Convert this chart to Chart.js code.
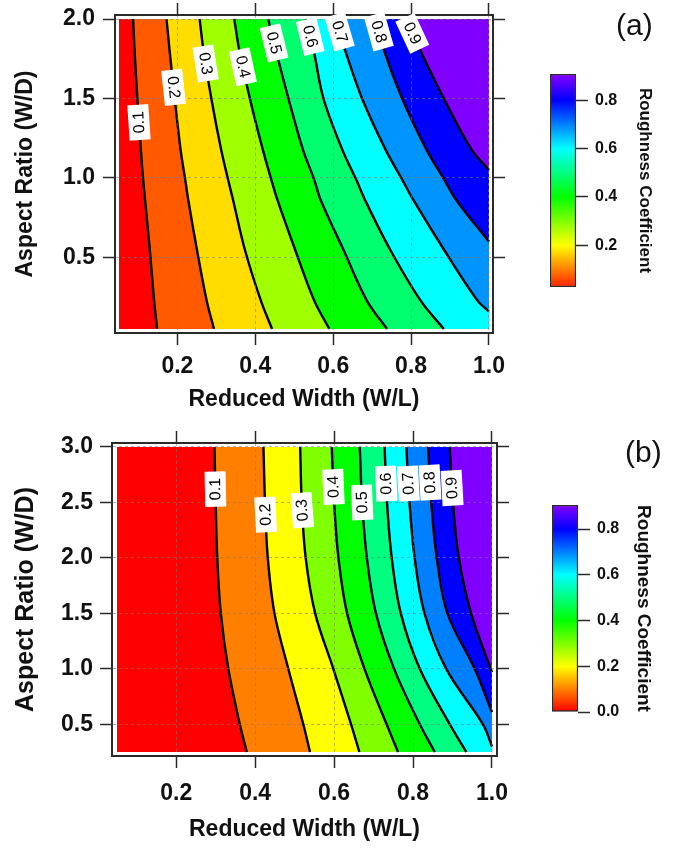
<!DOCTYPE html>
<html lang="en">
<head>
<meta charset="UTF-8">
<title>Roughness Coefficient contours</title>
<script src="https://cdn.jsdelivr.net/npm/chart.js"></script>
<style>
  body { margin: 0; background: #fff; }
  #page { position: relative; width: 675px; height: 848px; overflow: hidden; background: #fff; }
  canvas { position: absolute; }
  .panel-tag { position: absolute; font: 30px "Liberation Sans", Arial, sans-serif; line-height: 30px; color: #111; }
</style>
</head>
<body>
<div id="page">
  <canvas id="contourA" width="520" height="420" style="left:0;top:0"></canvas>
  <canvas id="barA" width="155" height="420" style="left:520px;top:0"></canvas>
  <canvas id="contourB" width="520" height="428" style="left:0;top:420px"></canvas>
  <canvas id="barB" width="155" height="428" style="left:520px;top:420px"></canvas>
  <div class="panel-tag" style="left:616px;top:10px">(a)</div>
  <div class="panel-tag" style="left:625px;top:437px">(b)</div>
</div>

<script>
// ---------- panel (a) ----------
const A_LEVELS = [0.1, 0.2, 0.3, 0.4, 0.5, 0.6, 0.7, 0.8, 0.9];
const A_Y = [2.0, 1.8, 1.5, 1.18, 0.99, 0.86, 0.55, 0.23, 0.05];
// x of each contour at the A_Y heights (top to bottom)
const A_X = [
  [0.086, 0.090, 0.097, 0.106, 0.112, 0.117, 0.129, 0.140, 0.148],
  [0.172, 0.180, 0.193, 0.208, 0.220, 0.228, 0.250, 0.275, 0.294],
  [0.257, 0.267, 0.287, 0.312, 0.330, 0.343, 0.373, 0.414, 0.443],
  [0.346, 0.359, 0.386, 0.419, 0.441, 0.457, 0.502, 0.551, 0.590],
  [0.433, 0.453, 0.485, 0.522, 0.551, 0.568, 0.626, 0.686, 0.738],
  [0.530, 0.550, 0.575, 0.623, 0.659, 0.682, 0.746, 0.824, 0.884],
  [0.607, 0.631, 0.674, 0.734, 0.777, 0.806, 0.884, 0.970],
  [0.708, 0.731, 0.777, 0.839, 0.885, 0.916],
  [0.786, 0.824, 0.884, 0.955]
];
// height where a contour leaves through the right edge (x = 1.0)
const A_EXIT_Y = [null, null, null, null, null, null, 0.16, 0.60, 1.05];
const A_X_RANGE = [0.05, 1.0];
const A_Y_RANGE = [0.05, 2.0];
const A_X_TICKS = [0.2, 0.4, 0.6, 0.8, 1.0];
const A_Y_TICKS = [0.5, 1.0, 1.5, 2.0];
const A_COLORS = ['#ff0000', '#ff5a00', '#ffdd00', '#a0ff00', '#00ff00',
                  '#00ff6e', '#00ffff', '#0094ff', '#0000ff', '#8000ff'];
const A_LABEL_Y = [1.35, 1.57, 1.72, 1.70, 1.85, 1.89, 1.92, 1.92, 1.91];
const A_LABEL_FLIP = [true, false, false, false, false, false, false, false, false];
const A_BAR_RANGE = [0.027, 0.908];
const A_BAR_TICKS = [0.2, 0.4, 0.6, 0.8];

// ---------- panel (b) ----------
const B_LEVELS = [0.1, 0.2, 0.3, 0.4, 0.5, 0.6, 0.7, 0.8, 0.9];
const B_Y = [3.0, 2.5, 2.0, 1.5, 1.0, 0.5, 0.25];
const B_X = [
  [0.297, 0.300, 0.304, 0.313, 0.332, 0.361, 0.379],
  [0.421, 0.425, 0.432, 0.449, 0.484, 0.522, 0.539],
  [0.514, 0.518, 0.528, 0.552, 0.598, 0.643, 0.664],
  [0.594, 0.600, 0.611, 0.633, 0.677, 0.733, 0.762],
  [0.665, 0.671, 0.683, 0.706, 0.752, 0.817, 0.855],
  [0.728, 0.734, 0.746, 0.769, 0.817, 0.893, 0.935],
  [0.783, 0.791, 0.804, 0.829, 0.884, 0.977],
  [0.838, 0.846, 0.860, 0.887, 0.956],
  [0.893, 0.901, 0.916, 0.947]
];
const B_EXIT_Y = [null, null, null, null, null, null, 0.30, 0.61, 0.97];
const B_X_RANGE = [0.05, 1.0];
const B_Y_RANGE = [0.25, 3.0];
const B_X_TICKS = [0.2, 0.4, 0.6, 0.8, 1.0];
const B_Y_TICKS = [0.5, 1.0, 1.5, 2.0, 2.5, 3.0];
const B_COLORS = ['#ff0000', '#ff8000', '#ffff00', '#80ff00', '#00ff00',
                  '#00ff80', '#00ffff', '#0080ff', '#0000ff', '#8000ff'];
const B_LABEL_Y = [2.62, 2.39, 2.43, 2.64, 2.50, 2.67, 2.67, 2.68, 2.63];
const B_LABEL_FLIP = [true, true, true, true, true, true, true, true, true];
const B_BAR_RANGE = [0.0, 0.905];
const B_BAR_TICKS = [0.0, 0.2, 0.4, 0.6, 0.8];

// colour scale of the colour bars
const CB_STOPS = [0.0, 0.2, 0.4, 0.6, 0.8, 1.0];
const CB_COLORS = ['#ff0000', '#ffff00', '#00ff00', '#00ffff', '#0000ff', '#ff00ff'];

Chart.defaults.font.family = '"Liberation Sans", Arial, sans-serif';
Chart.defaults.color = '#111';

const INK = '#2a2a2a';
const GRID = 'rgba(120,120,120,0.55)';

function fixBox(size, horizontal) {
  return function (s) {
    if (horizontal) s.height = size; else s.width = size;
    s.paddingLeft = s.paddingRight = s.paddingTop = s.paddingBottom = 0;
  };
}

function setTicks(values) {
  return function (s) { s.ticks = values.map(v => ({ value: v })); };
}

function linePoints(xs, ys, exitY, xMax) {
  const pts = xs.map((x, i) => ({ x: x, y: ys[i] }));
  if (exitY != null) pts.push({ x: xMax, y: exitY });
  return pts;
}

// white boxed level labels laid along the contour lines
function contourLabels(lines, levels, labelY, flip) {
  return {
    id: 'contourLabels',
    afterDraw(chart) {
      const ctx = chart.ctx, sx = chart.scales.x, sy = chart.scales.y;
      ctx.save();
      ctx.font = '16px "Liberation Sans", Arial, sans-serif';
      ctx.textAlign = 'center';
      ctx.textBaseline = 'middle';
      lines.forEach((pts, k) => {
        const ly = labelY[k];
        let i = 0;
        while (i < pts.length - 2 && pts[i + 1].y > ly) i++;
        const a = pts[i], b = pts[i + 1];
        const ax = sx.getPixelForValue(a.x), ay = sy.getPixelForValue(a.y);
        const bx = sx.getPixelForValue(b.x), by = sy.getPixelForValue(b.y);
        const t = (a.y - ly) / (a.y - b.y);
        let ang = Math.atan2(by - ay, bx - ax);
        if (flip[k]) ang += Math.PI;
        const text = levels[k].toFixed(1);
        const w = ctx.measureText(text).width + 13;
        ctx.save();
        ctx.translate(ax + t * (bx - ax), ay + t * (by - ay));
        ctx.rotate(ang);
        ctx.fillStyle = '#fff';
        ctx.fillRect(-w / 2, -10.5, w, 21);
        ctx.fillStyle = '#000';
        ctx.fillText(text, 0, 0.5);
        ctx.restore();
      });
      ctx.restore();
    }
  };
}

function buildContour(id, p) {
  const x0 = p.xRange[0], x1 = p.xRange[1], y0 = p.yRange[0], y1 = p.yRange[1];
  const lines = p.xs.map((xs, k) => linePoints(xs, p.ys, p.exitY[k], x1));

  // lowest band fills the whole field, each next band is the area right of its contour
  const datasets = [{
    data: [{ x: x0, y: y1 }, { x: x0, y: y0 }, { x: x1, y: y0 }, { x: x1, y: y1 }],
    backgroundColor: p.colors[0], fill: 'shape', borderWidth: 0, pointRadius: 0, order: 100
  }];
  lines.forEach((pts, k) => {
    const region = pts.slice();
    if (p.exitY[k] == null) region.push({ x: x1, y: y0 });
    region.push({ x: x1, y: y1 });
    datasets.push({
      data: region, backgroundColor: p.colors[k + 1], fill: 'shape',
      borderWidth: 0, pointRadius: 0, tension: 0, order: 99 - k
    });
  });
  lines.forEach(pts => {
    datasets.push({
      data: pts, borderColor: '#000', borderWidth: 2.4, fill: false,
      pointRadius: 0, tension: 0.35, order: 0
    });
  });

  const tickFont = { size: 23, weight: 'bold' };
  const frame = { display: true, color: INK, width: 2, z: 2 };
  const fmt = v => Number(v).toFixed(1);

  new Chart(document.getElementById(id), {
    type: 'line',
    data: { datasets: datasets },
    plugins: [contourLabels(lines, p.levels, p.labelY, p.flip)],
    options: {
      responsive: false,
      animation: false,
      events: [],
      layout: { padding: 0 },
      plugins: { legend: { display: false }, tooltip: { enabled: false } },
      scales: {
        x: {
          type: 'linear', position: 'bottom', min: p.xAxis[0], max: p.xAxis[1],
          afterBuildTicks: setTicks(p.xTicks),
          afterFit: fixBox(p.box.bottom, true),
          grid: { color: GRID, lineWidth: 1, z: 1, tickLength: 12, tickColor: INK, tickWidth: 1.5, tickBorderDash: [] },
          border: Object.assign({}, frame, { dash: [3, 3] }),
          ticks: { padding: p.xTickPad, font: tickFont, color: '#111', callback: fmt, maxRotation: 0, autoSkip: false },
          title: { display: true, text: 'Reduced Width (W/L)', font: { size: 23, weight: 'bold' }, color: '#111',
                   padding: { top: 0, bottom: p.xTitlePad } }
        },
        x2: {
          type: 'linear', position: 'top', min: p.xAxis[0], max: p.xAxis[1],
          afterBuildTicks: setTicks(p.xTicks),
          afterFit: fixBox(p.box.top, true),
          grid: { drawOnChartArea: false, tickLength: 12, tickColor: INK, tickWidth: 1.5 },
          border: frame,
          ticks: { display: false }
        },
        y: {
          type: 'linear', position: 'left', min: p.yAxis[0], max: p.yAxis[1],
          afterBuildTicks: setTicks(p.yTicks),
          afterFit: fixBox(p.box.left, false),
          grid: { color: GRID, lineWidth: 1, z: 1, tickLength: 12, tickColor: INK, tickWidth: 1.5, tickBorderDash: [] },
          border: Object.assign({}, frame, { dash: [3, 3] }),
          ticks: { padding: p.yTickPad, font: tickFont, color: '#111', callback: fmt, autoSkip: false },
          title: { display: true, text: 'Aspect Ratio (W/D)', font: { size: p.yTitleSize, weight: 'bold' }, color: '#111',
                   padding: { top: p.yTitlePad, bottom: 0 } }
        },
        y2: {
          type: 'linear', position: 'right', min: p.yAxis[0], max: p.yAxis[1],
          afterBuildTicks: setTicks(p.yTicks),
          afterFit: fixBox(p.box.right, false),
          grid: { drawOnChartArea: false, tickLength: 12, tickColor: INK, tickWidth: 1.5 },
          border: frame,
          ticks: { display: false }
        }
      }
    }
  });
}

function barGradient(chart) {
  const sy = chart.scales.y;
  if (!sy || !chart.chartArea) return CB_COLORS[0];
  const first = CB_STOPS[0], last = CB_STOPS[CB_STOPS.length - 1];
  const g = chart.ctx.createLinearGradient(0, sy.getPixelForValue(first), 0, sy.getPixelForValue(last));
  CB_STOPS.forEach((v, i) => g.addColorStop((v - first) / (last - first), CB_COLORS[i]));
  return g;
}

function buildColorbar(id, p) {
  new Chart(document.getElementById(id), {
    type: 'bar',
    data: {
      labels: [''],
      datasets: [{
        data: [[p.range[0], p.range[1]]],
        backgroundColor: c => barGradient(c.chart),
        borderColor: INK, borderWidth: 1.5, borderSkipped: false,
        barPercentage: 1, categoryPercentage: 1
      }]
    },
    options: {
      responsive: false,
      animation: false,
      events: [],
      layout: { padding: p.pad },
      plugins: { legend: { display: false }, tooltip: { enabled: false } },
      scales: {
        x: { display: false },
        y: {
          position: 'right', min: p.range[0], max: p.range[1], beginAtZero: false,
          afterBuildTicks: setTicks(p.ticks),
          afterFit: fixBox(p.axisWidth, false),
          grid: { drawOnChartArea: false, tickLength: 12, tickColor: INK, tickWidth: 1.5 },
          border: { display: false },
          ticks: { padding: 7, font: { size: 16, weight: 'bold' }, color: '#111',
                   callback: v => Number(v).toFixed(1), autoSkip: false },
          title: { display: true, text: 'Roughness Coefficient', font: { size: p.titleSize, weight: 'bold' },
                   color: '#111', padding: { top: 20, bottom: 0 } }
        }
      }
    }
  });
}

buildContour('contourA', {
  levels: A_LEVELS, ys: A_Y, xs: A_X, exitY: A_EXIT_Y, colors: A_COLORS,
  xRange: A_X_RANGE, yRange: A_Y_RANGE, xTicks: A_X_TICKS, yTicks: A_Y_TICKS,
  labelY: A_LABEL_Y, flip: A_LABEL_FLIP,
  xAxis: [0.0397, 1.0103], yAxis: [0.0248, 2.0252],
  box: { left: 115, right: 27, top: 15, bottom: 87 },
  xTickPad: 8, yTickPad: 8, xTitlePad: 7, yTitlePad: 12, yTitleSize: 23
});

buildContour('contourB', {
  levels: B_LEVELS, ys: B_Y, xs: B_X, exitY: B_EXIT_Y, colors: B_COLORS,
  xRange: B_X_RANGE, yRange: B_Y_RANGE, xTicks: B_X_TICKS, yTicks: B_Y_TICKS,
  labelY: B_LABEL_Y, flip: B_LABEL_FLIP,
  xAxis: [0.0373, 1.0127], yAxis: [0.214, 3.036],
  box: { left: 112, right: 23, top: 23, bottom: 92 },
  xTickPad: 12, yTickPad: 7, xTitlePad: 5, yTitlePad: 11, yTitleSize: 25
});

buildColorbar('barA', {
  range: A_BAR_RANGE, ticks: A_BAR_TICKS, titleSize: 17,
  pad: { left: 30, top: 74, bottom: 133, right: 0 }, axisWidth: 99
});

buildColorbar('barB', {
  range: B_BAR_RANGE, ticks: B_BAR_TICKS, titleSize: 19,
  pad: { left: 32, top: 85, bottom: 136, right: 0 }, axisWidth: 97
});
</script>
</body>
</html>
